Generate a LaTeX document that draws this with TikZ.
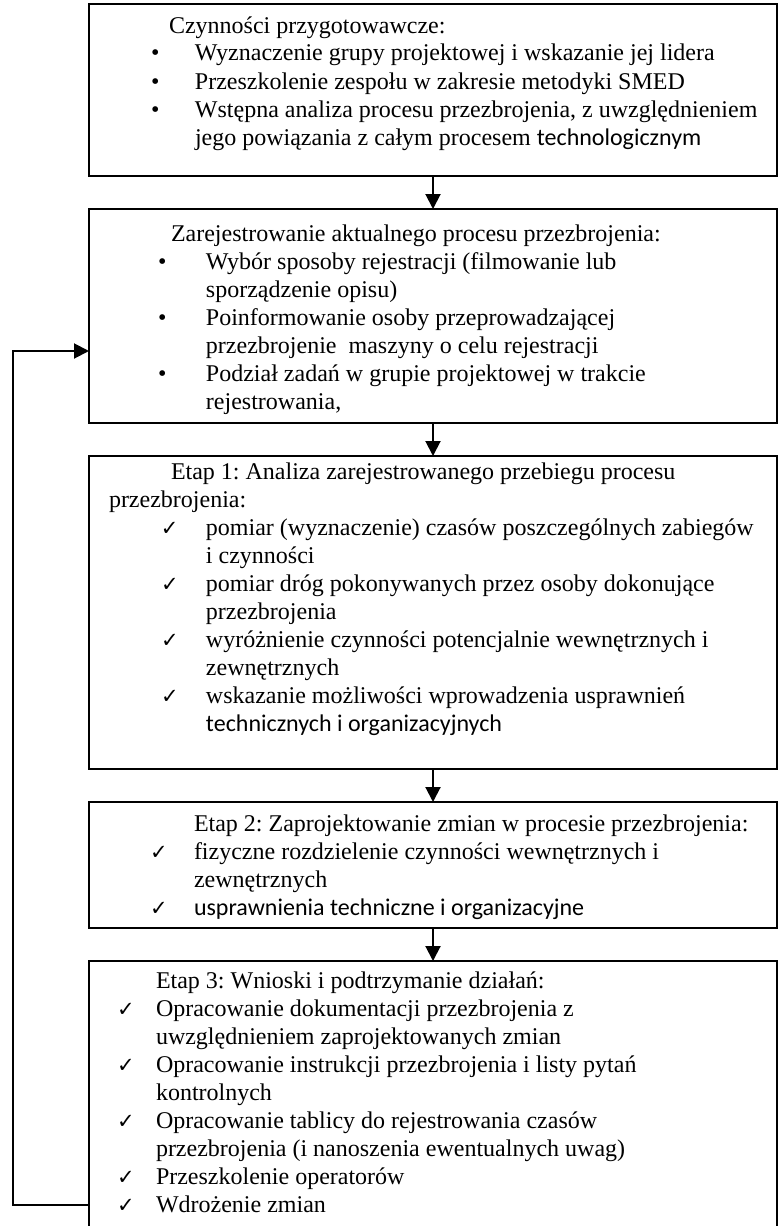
\documentclass[tikz,border=0pt]{standalone}
\usepackage{fontspec}
\setmainfont{Liberation Serif}
\newfontfamily\calibrifont{Carlito}
\newfontfamily\symfont{DejaVu Sans}
\usetikzlibrary{positioning,arrows.meta}

\newcommand{\tick}{{\symfont\fontsize{10.5pt}{14pt}\selectfont ✓}}
\newcommand{\dotmark}{•}
\newcommand{\stagetext}[3]{\parbox[t][#1][t]{344pt}{\fontsize{12pt}{14pt}\selectfont\frenchspacing\raggedright\vspace*{#2}#3}}
\newcommand{\stagehead}[1]{\par\noindent\hspace*{#1}\strut}
\newcommand{\stageitem}[3]{\par\hangindent=#2\hangafter=1\noindent\hbox to #2{\hspace*{#1}#3\hfil}}

\begin{document}
\begin{tikzpicture}[x=0.5pt, y=-0.5pt, node distance=16.5pt,
	stagebox/.style={draw, line width=1pt, inner sep=0pt, outer sep=0pt},
	flowarrow/.style={line width=1pt, -{Triangle[length=7.5pt,width=7.5pt]}}]
	\useasboundingbox (0,0) rectangle (779,1226);
	% etapy
	\node[stagebox, anchor=north] (prep) at (433,4) {\stagetext{86pt}{4.7pt}{%
		\stagehead{40pt}Czynności przygotowawcze:
		\stageitem{31pt}{53pt}{\dotmark}Wyznaczenie grupy projektowej i wskazanie jej lidera
		\stageitem{31pt}{53pt}{\dotmark}Przeszkolenie zespołu w zakresie metodyki SMED
		\stageitem{31pt}{53pt}{\dotmark}Wstępna analiza procesu przezbrojenia, z uwzględnieniem\newline
		jego powiązania z całym procesem {\calibrifont technologicznym}}};
	\node[stagebox, below=of prep] (record) {\stagetext{107pt}{6.2pt}{%
		\stagehead{41pt}Zarejestrowanie aktualnego procesu przezbrojenia:
		\stageitem{34.5pt}{58.5pt}{\dotmark}Wybór sposoby rejestracji (filmowanie lub\newline
		sporządzenie opisu)
		\stageitem{34.5pt}{58.5pt}{\dotmark}Poinformowanie osoby przeprowadzającej\newline
		przezbrojenie\ \ maszyny o celu rejestracji
		\stageitem{34.5pt}{58.5pt}{\dotmark}Podział zadań w grupie projektowej w trakcie\newline
		rejestrowania,}};
	\node[stagebox, below=of record] (analysis) {\stagetext{156.5pt}{1.7pt}{%
		\stagehead{41pt}Etap 1: Analiza zarejestrowanego przebiegu procesu\newline
		\hspace*{10pt}przezbrojenia:
		\stageitem{36pt}{58.5pt}{\tick}pomiar (wyznaczenie) czasów poszczególnych zabiegów\newline
		i czynności
		\stageitem{36pt}{58.5pt}{\tick}pomiar dróg pokonywanych przez osoby dokonujące\newline
		przezbrojenia
		\stageitem{36pt}{58.5pt}{\tick}wyróżnienie czynności potencjalnie wewnętrznych i\newline
		zewnętrznych
		\stageitem{36pt}{58.5pt}{\tick}wskazanie możliwości wprowadzenia usprawnień\newline
		{\calibrifont technicznych i organizacyjnych}}};
	\node[stagebox, below=of analysis] (plan) {\stagetext{63pt}{4.7pt}{%
		\stagehead{52.5pt}Etap 2: Zaprojektowanie zmian w procesie przezbrojenia:
		\stageitem{30.5pt}{52.5pt}{\tick}fizyczne rozdzielenie czynności wewnętrznych i\newline
		zewnętrznych
		\stageitem{30.5pt}{52.5pt}{\tick}{\calibrifont usprawnienia techniczne i organizacyjne}}};
	\node[stagebox, draw=none, below=of plan] (conclude) {\stagetext{132.5pt}{3.7pt}{%
		\stagehead{33.5pt}Etap 3: Wnioski i podtrzymanie działań:
		\stageitem{14pt}{33.5pt}{\tick}Opracowanie dokumentacji przezbrojenia z\newline
		uwzględnieniem zaprojektowanych zmian
		\stageitem{14pt}{33.5pt}{\tick}Opracowanie instrukcji przezbrojenia i listy pytań\newline
		kontrolnych
		\stageitem{14pt}{33.5pt}{\tick}Opracowanie tablicy do rejestrowania czasów\newline
		przezbrojenia (i nanoszenia ewentualnych uwag)
		\stageitem{14pt}{33.5pt}{\tick}Przeszkolenie operatorów
		\stageitem{14pt}{33.5pt}{\tick}Wdrożenie zmian}};
	\draw[line width=1pt] (conclude.south west) |- (conclude.north) -| (conclude.south east);
	% strzalki
	\draw[flowarrow] (prep) -- (record);
	\draw[flowarrow] (record) -- (analysis);
	\draw[flowarrow] (analysis) -- (plan);
	\draw[flowarrow] (plan) -- (conclude);
	% petla zwrotna
	\coordinate (loopout) at ([yshift=-122pt]conclude.north west);
	\coordinate (loopin) at ([yshift=-71pt]record.north west);
	\draw[flowarrow] (loopout) -- ++(-38pt,0) |- (loopin);
\end{tikzpicture}
\end{document}
